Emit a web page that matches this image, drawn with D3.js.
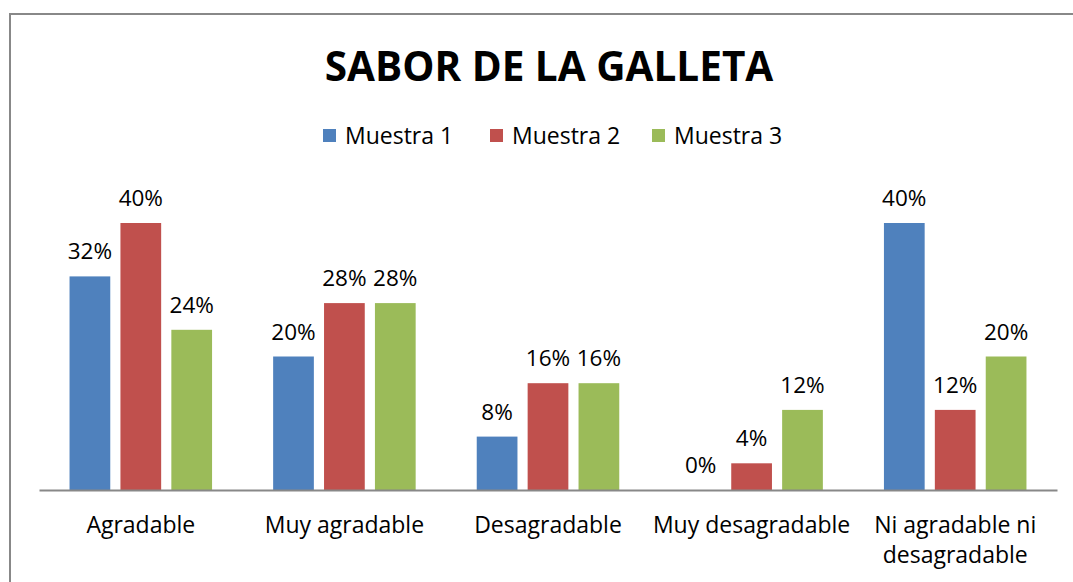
<!DOCTYPE html>
<html>
<head>
<meta charset="utf-8">
<script src="https://cdn.jsdelivr.net/npm/d3@7"></script>
<style>
	body { margin: 0; background: #fff; }
	text { font-family: "Open Sans", "Noto Sans", sans-serif; fill: #000; }
</style>
</head>
<body>
<svg id="chart" width="1073" height="582"></svg>
<script>
/*jshint esversion: 6 */

// data
var categories = ["Agradable", "Muy agradable", "Desagradable", "Muy desagradable", "Ni agradable ni desagradable"];
var seriesNames = ["Muestra 1", "Muestra 2", "Muestra 3"];
var muestra1 = [32, 20, 8, 0, 40];
var muestra2 = [40, 28, 16, 4, 12];
var muestra3 = [24, 28, 16, 12, 20];
var colors = ["#4F81BD", "#C0504D", "#9BBB59"];

var plot = { left: 39, right: 1057, top: 223, bottom: 490 };

var svg = d3.select("#chart");

// chart frame
svg.append("rect")
	.attr("x", 10).attr("y", 14)
	.attr("width", 1080).attr("height", 600)
	.attr("fill", "#fff")
	.attr("stroke", "#888")
	.attr("stroke-width", 2);

// title
svg.append("text")
	.attr("x", 549).attr("y", 81)
	.attr("text-anchor", "middle")
	.style("font-size", "40.5px")
	.style("font-weight", "bold")
	.text("SABOR DE LA GALLETA");

//************ SCALES ************

var x0 = d3.scaleBand()
	.domain(categories)
	.range([plot.left, plot.right])
	.paddingInner(0)
	.paddingOuter(0);

var x1 = d3.scaleBand()
	.domain(seriesNames)
	.range([0, x0.bandwidth()])
	.paddingInner(0.2)
	.paddingOuter(0.6);

var y = d3.scaleLinear()
	.domain([0, 40])
	.range([plot.bottom, plot.top]);

var rows = categories.map(function(c, i) {
	return { cat: c, values: [muestra1[i], muestra2[i], muestra3[i]] };
});

//************ BARS ************

var groups = svg.append("g").selectAll("g")
	.data(rows)
	.join("g")
	.attr("transform", function(d) { return "translate(" + x0(d.cat) + ",0)"; });

groups.selectAll("rect")
	.data(function(d) { return d.values.map(function(v, i) { return { s: seriesNames[i], v: v, i: i }; }); })
	.join("rect")
	.attr("x", function(d) { return x1(d.s); })
	.attr("y", function(d) { return y(d.v); })
	.attr("width", x1.bandwidth())
	.attr("height", function(d) { return y(0) - y(d.v); })
	.attr("fill", function(d) { return colors[d.i]; });

// value labels
groups.selectAll("text")
	.data(function(d) { return d.values.map(function(v, i) { return { s: seriesNames[i], v: v }; }); })
	.join("text")
	.attr("x", function(d) { return x1(d.s) + x1.bandwidth() / 2; })
	.attr("y", function(d) { return y(d.v) - 17; })
	.attr("text-anchor", "middle")
	.style("font-size", "22.5px")
	.text(function(d) { return d.v + "%"; });

//************ X AXIS ************

var xAxis = d3.axisBottom(x0)
	.tickSize(0)
	.tickPadding(0)
	.tickFormat("");

var axisG = svg.append("g")
	.attr("transform", "translate(0," + plot.bottom + ")")
	.call(xAxis);
axisG.select(".domain").attr("stroke", "#888").attr("stroke-width", 2);

// category labels, wrapped like the original
var wrapWidth = x0.bandwidth();
axisG.selectAll(".tick").each(function(d) {
	var t = d3.select(this).append("text")
		.attr("y", 43)
		.attr("text-anchor", "middle")
		.style("font-size", "23px");
	var words = d.split(" "), line = [];
	var tspan = t.append("tspan").attr("x", 0).attr("dy", 0);
	words.forEach(function(w) {
		line.push(w);
		tspan.text(line.join(" "));
		if (tspan.node().getComputedTextLength() > wrapWidth && line.length > 1) {
			line.pop();
			tspan.text(line.join(" "));
			line = [w];
			tspan = t.append("tspan").attr("x", 0).attr("dy", "1.31em").text(w);
		}
	});
});

//************ LEGEND ************

var legendX = [323, 490, 652];
var legend = svg.append("g").selectAll("g")
	.data(seriesNames)
	.join("g")
	.attr("transform", function(d, i) { return "translate(" + legendX[i] + ",129)"; });
legend.append("rect")
	.attr("width", 13).attr("height", 13)
	.attr("fill", function(d, i) { return colors[i]; });
legend.append("text")
	.attr("x", 22).attr("y", 15)
	.style("font-size", "23px")
	.text(function(d) { return d; });
</script>
</body>
</html>
